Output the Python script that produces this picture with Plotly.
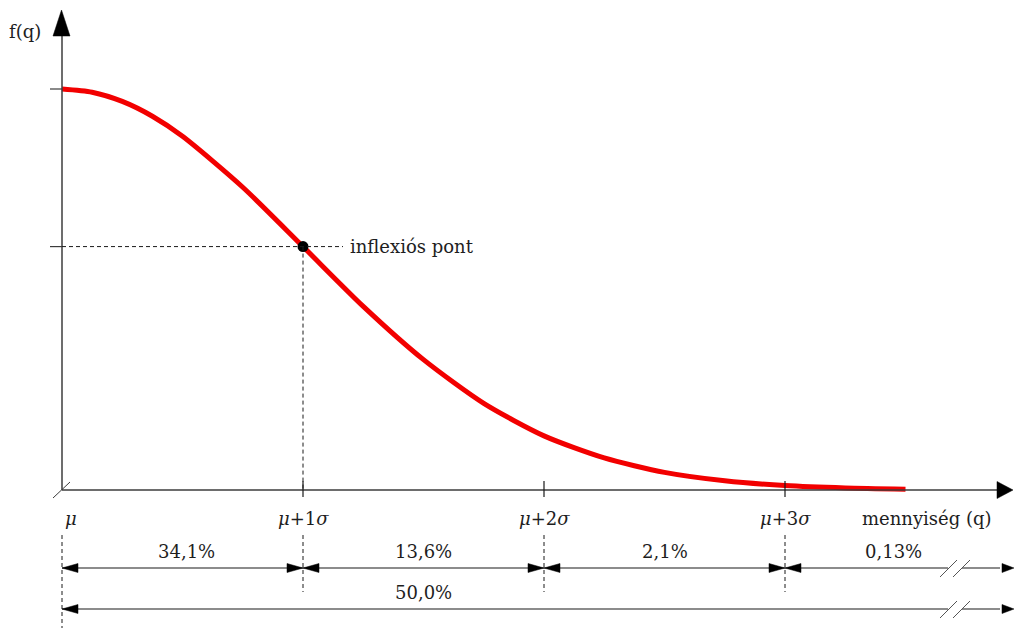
import plotly.graph_objects as go

# ---- data ----
sigma_pos = [0, 1, 2, 3]
tick_labels = ["<i>μ</i>", "<i>μ</i>+1<i>σ</i>", "<i>μ</i>+2<i>σ</i>", "<i>μ</i>+3<i>σ</i>"]
segment_labels = ["34,1%", "13,6%", "2,1%", "0,13%"]
total_label = "50,0%"
curve_x = [0, 0.125, 0.25, 0.375, 0.5, 0.75, 1.0, 1.25, 1.5, 1.75, 2.0, 2.25, 2.5, 2.75, 3.0, 3.25, 3.5]
curve_y = [1.0, 0.992, 0.969, 0.932, 0.882, 0.755, 0.607, 0.458, 0.325, 0.216, 0.135, 0.080, 0.044, 0.023, 0.011, 0.005, 0.002]
inflection_x = [1.0]
inflection_y = [0.607]

# ---- pixel <-> data helpers (layout only) ----
W, H = 1014, 628
X0, UX = 62, 241      # px of mu, px per sigma
Y0, UY = 490, 401     # px of f=0, px per unit f


def X(px):
    return (px - X0) / UX


def Y(py):
    return (Y0 - py) / UY


def PX(x):
    return X0 + UX * x


def PY(y):
    return Y0 - UY * y


INK = "#1a1a1a"
AX = "#3c3c3c"
FONT = dict(family="DejaVu Serif", size=18, color="#1e1e1e")

fig = go.Figure()
fig.add_trace(go.Scatter(x=curve_x, y=curve_y, mode="lines",
                         line=dict(color="#f20000", width=5, shape="spline", smoothing=0.7),
                         hoverinfo="skip"))

shapes = []


def line(x0, y0, x1, y1, color=AX, width=1.3, dash=None):
    d = dict(type="line", xref="x", yref="y", x0=x0, y0=y0, x1=x1, y1=y1,
             line=dict(color=color, width=width))
    if dash:
        d["line"]["dash"] = dash
    shapes.append(d)


def tri(tip_px, tip_py, direction, length, half):
    # filled triangle arrow head given in pixels
    if direction == "right":
        pts = [(tip_px, tip_py), (tip_px - length, tip_py - half), (tip_px - length, tip_py + half)]
    elif direction == "left":
        pts = [(tip_px, tip_py), (tip_px + length, tip_py - half), (tip_px + length, tip_py + half)]
    else:  # up
        pts = [(tip_px, tip_py), (tip_px - half, tip_py + length), (tip_px + half, tip_py + length)]
    path = "M" + " L".join(f"{X(a):.5f},{Y(b):.5f}" for a, b in pts) + " Z"
    shapes.append(dict(type="path", xref="x", yref="y", path=path,
                       fillcolor="black", line=dict(color="black", width=0.5)))


# axes
line(0, 0, X(999), 0, width=1.5)
tri(1013, PY(0), "right", 16, 8.5)
line(0, 0, 0, Y(34), width=1.5)
tri(61.5, 10, "up", 26, 8.5)
line(X(53), Y(498), X(70), Y(482), width=1)
# y ticks
for yv in [curve_y[0], inflection_y[0]]:
    line(X(50), yv, 0, yv, width=1.2)
# x ticks
for s in sigma_pos[1:]:
    line(s, Y(481), s, Y(497), color=INK, width=1.2)

# inflection guide lines
line(0, inflection_y[0], X(343), inflection_y[0], color=INK, width=1, dash="4px,3px")
line(inflection_x[0], inflection_y[0], inflection_x[0], 0, color=INK, width=1, dash="4px,3px")

# dimension rows
R1, R2 = 568, 609
line(0, Y(535), 0, Y(628), color=INK, width=1, dash="4px,3px")
for s in sigma_pos[1:]:
    line(s, Y(535), s, Y(592), color=INK, width=1, dash="4px,3px")

HL, HH = 16, 4.5
for a, b in zip(sigma_pos[:-1], sigma_pos[1:]):
    line(a, Y(R1), b, Y(R1), color=INK, width=1.2)
    tri(PX(a), R1, "left", HL, HH)
    tri(PX(b), R1, "right", HL, HH)
# last open segment with break
line(sigma_pos[-1], Y(R1), X(948), Y(R1), color=INK, width=1.2)
line(X(962), Y(R1), X(1000), Y(R1), color=INK, width=1.2)
tri(PX(sigma_pos[-1]), R1, "left", HL, HH)
tri(1014, R1, "right", 12, HH)
# total row
line(0, Y(R2), X(948), Y(R2), color=INK, width=1.2)
line(X(962), Y(R2), X(1000), Y(R2), color=INK, width=1.2)
tri(PX(0), R2, "left", HL, HH)
tri(1014, R2, "right", 12, HH)
# break marks
for r in (R1, R2):
    for dx in (0, 13):
        line(X(940 + dx), Y(r + 9), X(957 + dx), Y(r - 8), color="#555", width=1)

fig.add_trace(go.Scatter(x=inflection_x, y=inflection_y, mode="markers",
                         marker=dict(color="black", size=11), hoverinfo="skip"))

ann = []


def text(x, y, s, xanchor="center"):
    ann.append(dict(x=x, y=y, xref="x", yref="y", text=s, showarrow=False,
                    xanchor=xanchor, yanchor="middle", font=FONT))


# tick labels
text(X(63), Y(518), tick_labels[0], xanchor="left")
for s, lab in zip(sigma_pos[1:], tick_labels[1:]):
    text(s, Y(518), lab)
text(X(860), Y(518), "mennyiség (q)", xanchor="left")
text(X(7), Y(31), "f(q)", xanchor="left")
text(X(348), inflection_y[0], "inflexiós pont", xanchor="left")

# percentage labels
mids = [X(186), 1.5, 2.5, X(893)]
for m, lab in zip(mids, segment_labels):
    text(m, Y(551), lab)
text(1.5, Y(592), total_label)

fig.update_layout(
    width=W, height=H, margin=dict(l=0, r=0, t=0, b=0),
    font=dict(family="DejaVu Serif"),
    paper_bgcolor="white", plot_bgcolor="white", showlegend=False,
    xaxis=dict(range=[X(0), X(W)], visible=False, fixedrange=True),
    yaxis=dict(range=[Y(H), Y(0)], visible=False, fixedrange=True),
    shapes=shapes, annotations=ann,
)

fig.write_html("out.html", config={"displayModeBar": False},
               post_script="document.body.style.margin='0';document.body.style.overflow='hidden';")
